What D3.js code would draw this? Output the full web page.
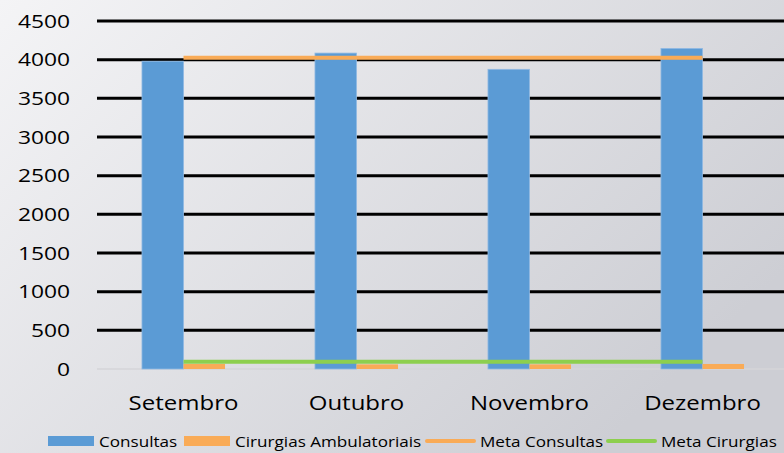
<!DOCTYPE html>
<html>
<head>
<meta charset="utf-8">
<script src="https://cdn.jsdelivr.net/npm/d3@7"></script>
<style>
  body { margin: 0; }
  svg { display: block; font-family: "Open Sans", sans-serif; }
</style>
</head>
<body>
<div id="chart"></div>
<script>
// data
var months = ["Setembro", "Outubro", "Novembro", "Dezembro"];
var consultas = [3980, 4085, 3875, 4145];
var cirurgias = [65, 60, 60, 65];
var metaConsultas = [4025, 4025, 4025, 4025];
var metaCirurgias = [95, 95, 95, 95];
var yTicks = [0, 500, 1000, 1500, 2000, 2500, 3000, 3500, 4000, 4500];

var svgWidth = 784;
var svgHeight = 453;

var margin = { top: 21, right: -5, bottom: 84, left: 97 };
var width = svgWidth - margin.left - margin.right;
var height = svgHeight - margin.top - margin.bottom;

// text in the picture is stretched sideways
var stretch = 1.2;

var svg = d3.select("#chart")
  .append("svg")
  .attr("width", svgWidth)
  .attr("height", svgHeight);

// background gradient
var grad = svg.append("defs").append("linearGradient")
  .attr("id", "bg")
  .attr("x1", "0").attr("y1", "0")
  .attr("x2", "1").attr("y2", "0.6");
grad.append("stop").attr("offset", "0").attr("stop-color", "#f4f4f6");
grad.append("stop").attr("offset", "1").attr("stop-color", "#cdced4");

svg.append("rect")
  .attr("width", svgWidth)
  .attr("height", svgHeight)
  .attr("fill", "url(#bg)");

var chartGroup = svg.append("g")
  .attr("transform", `translate(${margin.left}, ${margin.top})`);

var x0 = d3.scaleBand()
  .domain(months)
  .range([0, width])
  .paddingInner(0.52)
  .paddingOuter(0.26);

var yScale = d3.scaleLinear()
  .domain([0, 4500])
  .range([height, 0]);

// gridlines
chartGroup.selectAll(".grid")
  .data(yTicks.filter(d => d > 0))
  .enter()
  .append("line")
  .attr("x1", 0)
  .attr("x2", width)
  .attr("y1", d => yScale(d))
  .attr("y2", d => yScale(d))
  .attr("stroke", "#000")
  .attr("stroke-width", 3);

chartGroup.append("line")
  .attr("x1", 0)
  .attr("x2", width)
  .attr("y1", yScale(0))
  .attr("y2", yScale(0))
  .attr("stroke", "#d4d4d8")
  .attr("stroke-width", 1.5);

// y axis labels
chartGroup.selectAll(".ylab")
  .data(yTicks)
  .enter()
  .append("text")
  .attr("transform", d => `translate(-27, ${yScale(d)}) scale(${stretch}, 1)`)
  .attr("dy", "0.35em")
  .attr("text-anchor", "end")
  .attr("font-size", "19px")
  .attr("fill", "#000")
  .text(d => d3.format("d")(d));

var bw = x0.bandwidth() / 2;

// Consultas bars
chartGroup.selectAll(".cons")
  .data(consultas)
  .enter()
  .append("rect")
  .attr("x", (d, i) => x0(months[i]))
  .attr("y", d => yScale(d))
  .attr("width", bw)
  .attr("height", d => yScale(0) - yScale(d))
  .attr("fill", "#5b9bd5")
  .attr("stroke", "#8fb9e3")
  .attr("stroke-width", 0.8);

// Cirurgias bars
chartGroup.selectAll(".cir")
  .data(cirurgias)
  .enter()
  .append("rect")
  .attr("x", (d, i) => x0(months[i]) + bw)
  .attr("y", d => yScale(d))
  .attr("width", bw)
  .attr("height", d => yScale(0) - yScale(d))
  .attr("fill", "#f9ab57");

// target lines
var lineGen = d3.line()
  .x((d, i) => x0(months[i]) + bw)
  .y(d => yScale(d));

chartGroup.append("path")
  .datum(metaConsultas)
  .attr("d", lineGen)
  .attr("fill", "none")
  .attr("stroke", "#f9ab57")
  .attr("stroke-width", 4);

chartGroup.append("path")
  .datum(metaCirurgias)
  .attr("d", lineGen)
  .attr("fill", "none")
  .attr("stroke", "#8dcf4e")
  .attr("stroke-width", 4);

// x labels
chartGroup.selectAll(".xlab")
  .data(months)
  .enter()
  .append("text")
  .attr("transform", d => `translate(${x0(d) + bw}, ${height + 41}) scale(${stretch}, 1)`)
  .attr("text-anchor", "middle")
  .attr("font-size", "20px")
  .attr("fill", "#000")
  .text(d => d);

// legend
var legendItems = [
  { name: "Consultas", type: "rect", color: "#5b9bd5", x: 48 },
  { name: "Cirurgias Ambulatoriais", type: "rect", color: "#f9ab57", x: 184 },
  { name: "Meta Consultas", type: "line", color: "#f9ab57", x: 427 },
  { name: "Meta Cirurgias", type: "line", color: "#8dcf4e", x: 608 }
];

var legend = svg.append("g");
legendItems.forEach(function(item) {
  var g = legend.append("g").attr("transform", `translate(${item.x}, 441)`);
  if (item.type === "rect") {
    g.append("rect")
      .attr("x", 0).attr("y", -5)
      .attr("width", 46).attr("height", 10)
      .attr("fill", item.color);
  } else {
    g.append("line")
      .attr("x1", 0).attr("x2", 47)
      .attr("stroke", item.color)
      .attr("stroke-width", 4)
      .attr("stroke-linecap", "round");
  }
  g.append("text")
    .attr("transform", `translate(${item.type === "rect" ? 51 : 53}, 6) scale(1.18, 1)`)
    .attr("font-size", "14.5px")
    .attr("fill", "#000")
    .text(item.name);
});
</script>
</body>
</html>
